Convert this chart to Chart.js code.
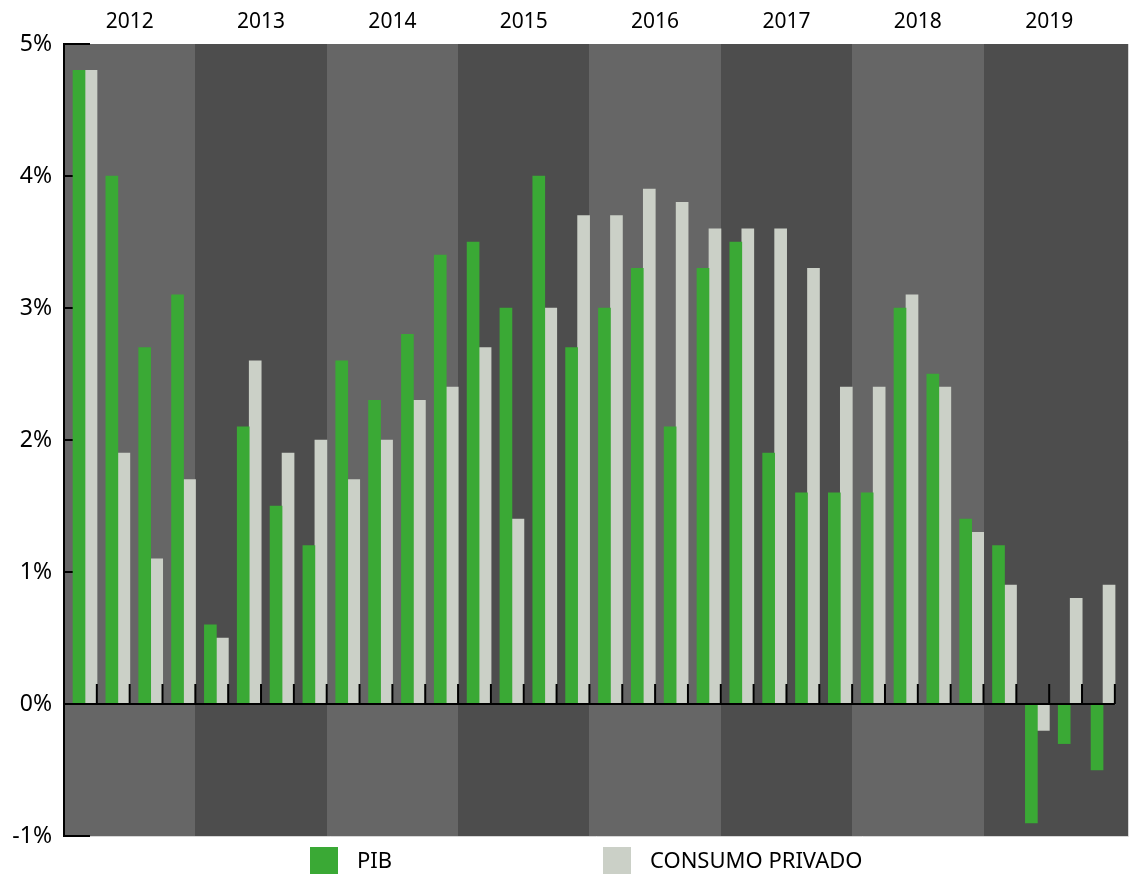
<!DOCTYPE html>
<html>
<head>
<meta charset="utf-8">
<script src="https://cdn.jsdelivr.net/npm/chart.js@4.4.1/dist/chart.umd.min.js"></script>
<style>
  body { margin: 0; background: #fff; }
  #wrap { width: 1133px; height: 874px; }
</style>
</head>
<body>
<div id="wrap"><canvas id="chart"></canvas></div>
<script>
const years = ['2012', '2013', '2014', '2015', '2016', '2017', '2018', '2019'];
const quarters = ['T1', 'T2', 'T3', 'T4'];
const categories = years.flatMap(y => quarters.map(q => q + ' ' + y));

// variación interanual, %
const pib = [
  4.8, 4.0, 2.7, 3.1,
  0.6, 2.1, 1.5, 1.2,
  2.6, 2.3, 2.8, 3.4,
  3.5, 3.0, 4.0, 2.7,
  3.0, 3.3, 2.1, 3.3,
  3.5, 1.9, 1.6, 1.6,
  1.6, 3.0, 2.5, 1.4,
  1.2, -0.9, -0.3, -0.5
];
const consumoPrivado = [
  4.8, 1.9, 1.1, 1.7,
  0.5, 2.6, 1.9, 2.0,
  1.7, 2.0, 2.3, 2.4,
  2.7, 1.4, 3.0, 3.7,
  3.7, 3.9, 3.8, 3.6,
  3.6, 3.6, 3.3, 2.4,
  2.4, 3.1, 2.4, 1.3,
  0.9, -0.2, 0.8, 0.9
];

const GREEN = '#3aa935';
const GREY = '#cbd0c7';
const BAND_LIGHT = '#666666';
const BAND_DARK = '#4d4d4d';
const FONT = '"Noto Sans", sans-serif';
const BAR_POS = 0.64; // the pair of bars sits at the right end of each quarter slot

const toPoints = arr => arr.map((v, i) => ({ x: i + BAR_POS, y: v }));

const yearBands = {
  id: 'yearBands',
  beforeDraw(chart) {
    const { ctx, chartArea: a, scales: { x } } = chart;
    ctx.save();
    years.forEach((yr, k) => {
      const x0 = Math.round(x.getPixelForValue(k * 4));
      const x1 = k === years.length - 1 ? Math.round(a.right) : Math.round(x.getPixelForValue(k * 4 + 4));
      ctx.fillStyle = k % 2 ? BAND_DARK : BAND_LIGHT;
      ctx.fillRect(x0, Math.round(a.top), x1 - x0, Math.round(a.bottom - a.top));
    });
    ctx.strokeStyle = '#d6d6d6';
    ctx.lineWidth = 1;
    ctx.beginPath();
    ctx.moveTo(a.right + 0.5, a.top);
    ctx.lineTo(a.right + 0.5, a.bottom + 0.5);
    ctx.lineTo(a.left, a.bottom + 0.5);
    ctx.stroke();
    ctx.restore();
  }
};

const innerTicks = {
  id: 'innerTicks',
  beforeDatasetsDraw(chart) {
    const { ctx, chartArea: a, scales: { y } } = chart;
    ctx.save();
    ctx.strokeStyle = '#000';
    ctx.lineWidth = 2;
    y.ticks.forEach(t => {
      const py = Math.round(y.getPixelForValue(t.value));
      ctx.beginPath();
      ctx.moveTo(a.left, py);
      ctx.lineTo(a.left + 26, py);
      ctx.stroke();
    });
    ctx.restore();
  }
};

const zeroLine = {
  id: 'zeroLine',
  afterDatasetsDraw(chart) {
    const { ctx, chartArea: a, scales: { x, y } } = chart;
    const y0 = y.getPixelForValue(0);
    ctx.save();
    ctx.strokeStyle = '#000';
    ctx.lineWidth = 2;
    ctx.beginPath();
    ctx.moveTo(a.left, y0);
    ctx.lineTo(x.getPixelForValue(categories.length), y0);
    for (let i = 1; i <= categories.length; i++) {
      const px = x.getPixelForValue(i);
      ctx.moveTo(px, y0);
      ctx.lineTo(px, y0 - 20);
    }
    ctx.stroke();
    ctx.restore();
  }
};

const bottomLegend = {
  id: 'bottomLegend',
  afterDraw(chart) {
    const { ctx } = chart;
    const starts = [310, 603];
    ctx.save();
    ctx.font = '22px ' + FONT;
    ctx.textBaseline = 'middle';
    chart.data.datasets.forEach((ds, i) => {
      ctx.fillStyle = ds.backgroundColor;
      ctx.fillRect(starts[i], 847, 28, 28);
      ctx.fillStyle = '#000';
      ctx.fillText(ds.label, starts[i] + 47, 862);
    });
    ctx.restore();
  }
};

new Chart(document.getElementById('chart'), {
  type: 'bar',
  data: {
    datasets: [
      { label: 'PIB', data: toPoints(pib), backgroundColor: GREEN, barThickness: 12 },
      { label: 'CONSUMO PRIVADO', data: toPoints(consumoPrivado), backgroundColor: GREY, barThickness: 12 }
    ]
  },
  options: {
    responsive: true,
    maintainAspectRatio: false,
    animation: false,
    layout: { padding: { left: 0, right: 5, top: 0, bottom: 38 } },
    plugins: { legend: { display: false }, tooltip: { enabled: false } },
    scales: {
      x: {
        type: 'linear',
        position: 'top',
        min: 0,
        max: 32.4,
        offset: false,
        grid: { display: false, drawTicks: false },
        border: { display: false },
        afterBuildTicks: s => { s.ticks = years.map((_, k) => ({ value: k * 4 + 2 })); },
        afterFit: s => { s.height = 44; },
        ticks: {
          color: '#000',
          font: { family: FONT, size: 21 },
          padding: 9,
          maxRotation: 0,
          autoSkip: false,
          callback: v => years[(v - 2) / 4]
        }
      },
      y: {
        min: -1,
        max: 5,
        grid: { display: false, drawTicks: false },
        border: { display: true, color: '#000', width: 2 },
        afterFit: s => { s.width = 64; },
        ticks: {
          stepSize: 1,
          color: '#000',
          font: { family: FONT, size: 23 },
          padding: 12,
          callback: v => v + '%'
        }
      }
    }
  },
  plugins: [yearBands, innerTicks, zeroLine, bottomLegend]
});
</script>
</body>
</html>
